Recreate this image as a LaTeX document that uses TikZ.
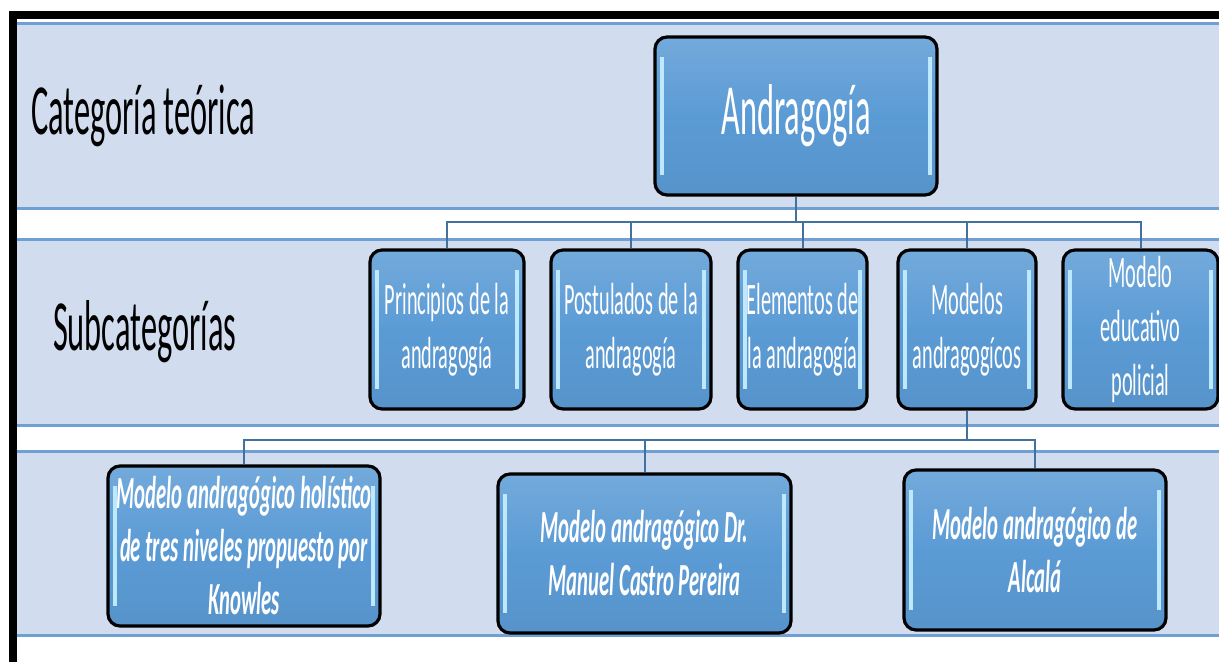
\documentclass[tikz,border=0pt]{standalone}
\usepackage{fontspec}
\setmainfont{Carlito}[FakeStretch=0.45]
\usepackage{tikz}
\usetikzlibrary{positioning}
\definecolor{bandfill}{RGB}{209,221,239}
\definecolor{bandline}{RGB}{110,160,212}
\definecolor{boxblue}{RGB}{91,155,213}
\definecolor{boxglow}{RGB}{190,232,252}
\definecolor{linkblue}{RGB}{65,113,156}
\begin{document}
\begin{tikzpicture}
	[x=0.5pt,y=-0.5pt,
	band/.style={fill=bandfill},
	bandedge/.style={draw=bandline,line width=1.5pt},
	box/.style={draw=black,line width=1.6pt,rounded corners=6pt,text=white,align=center,inner sep=0pt,
		top color=boxblue!85!white,bottom color=boxblue!95!black,middle color=boxblue,
		path picture={\draw[boxglow,line width=2pt]
			([xshift=3.5pt,yshift=-10pt]path picture bounding box.north west) -- ([xshift=3.5pt,yshift=10pt]path picture bounding box.south west)
			([xshift=-3.5pt,yshift=-10pt]path picture bounding box.north east) -- ([xshift=-3.5pt,yshift=10pt]path picture bounding box.south east);}},
	sub/.style={box,minimum height=79.5pt,font=\fontsize{22.5}{27}\selectfont},
	mod/.style={box,minimum height=80pt,font=\fontsize{23}{26.5}\selectfont\bfseries\itshape},
	conn/.style={draw=linkblue,line width=1pt},
	lbl/.style={anchor=west,font=\fontsize{36}{40}\selectfont}]
	\useasboundingbox (0,0) rectangle (1219,662);
	\fill[white] (0,0) rectangle (1219,662);
	
	% bands
	\foreach \ya/\yb in {24/209,240/425,451/635}
	{
		\path[band] (17,\ya) rectangle (1225,\yb);
		\draw[bandedge] (17,\ya) -- (1225,\ya);
		\draw[bandedge] (17,\yb) -- (1225,\yb);
	}
	\draw[line width=4pt] (13,662) -- (13,15.5) -- (1225,15.5);
	
	\node[lbl] (cat) at (24,116) {Categoría teórica};
	\node[lbl] (subc) at (46,332) {Subcategorías};
	
	\node[box,minimum width=141pt,minimum height=79pt,font=\fontsize{36}{40}\selectfont] (andr) at (796,116) {Andragogía};
	
	\node[sub,minimum width=77pt] (prin) at (447,329.5) {Principios de la\\andragogía};
	\node[sub,minimum width=80pt] (post) at (631,329.5) {Postulados de la\\andragogía};
	\node[sub,minimum width=64.5pt] (elem) at (802.5,329.5) {Elementos de\\la andragogía};
	\node[sub,minimum width=69pt] (mode) at (967,329.5) {Modelos\\andragogícos};
	\node[sub,minimum width=77.5pt] (poli) at (1140.5,329.5) {Modelo\\educativo\\policial};
	
	\node[mod,minimum width=136pt] (know) at (244,546) {Modelo andragógico holístico\\de tres niveles propuesto por\\Knowles};
	\node[mod,minimum width=146.5pt,minimum height=79.5pt] (cast) at (644.5,553.5) {Modelo andragógico Dr.\\Manuel Castro Pereira};
	\node[mod,minimum width=131pt] (alca) at (1035,550) {Modelo andragógico de\\Alcalá};
	
	\coordinate (bus1) at (0,222);
	\coordinate (bus2) at (0,440);
	\foreach \n in {prin,post,elem,mode,poli}
	\draw[conn] (andr.south) -- (andr.south |- bus1) -| (\n.north);
	\foreach \n in {know,cast,alca}
	\draw[conn] (mode.south) -- (mode.south |- bus2) -| (\n.north);
\end{tikzpicture}
\end{document}
